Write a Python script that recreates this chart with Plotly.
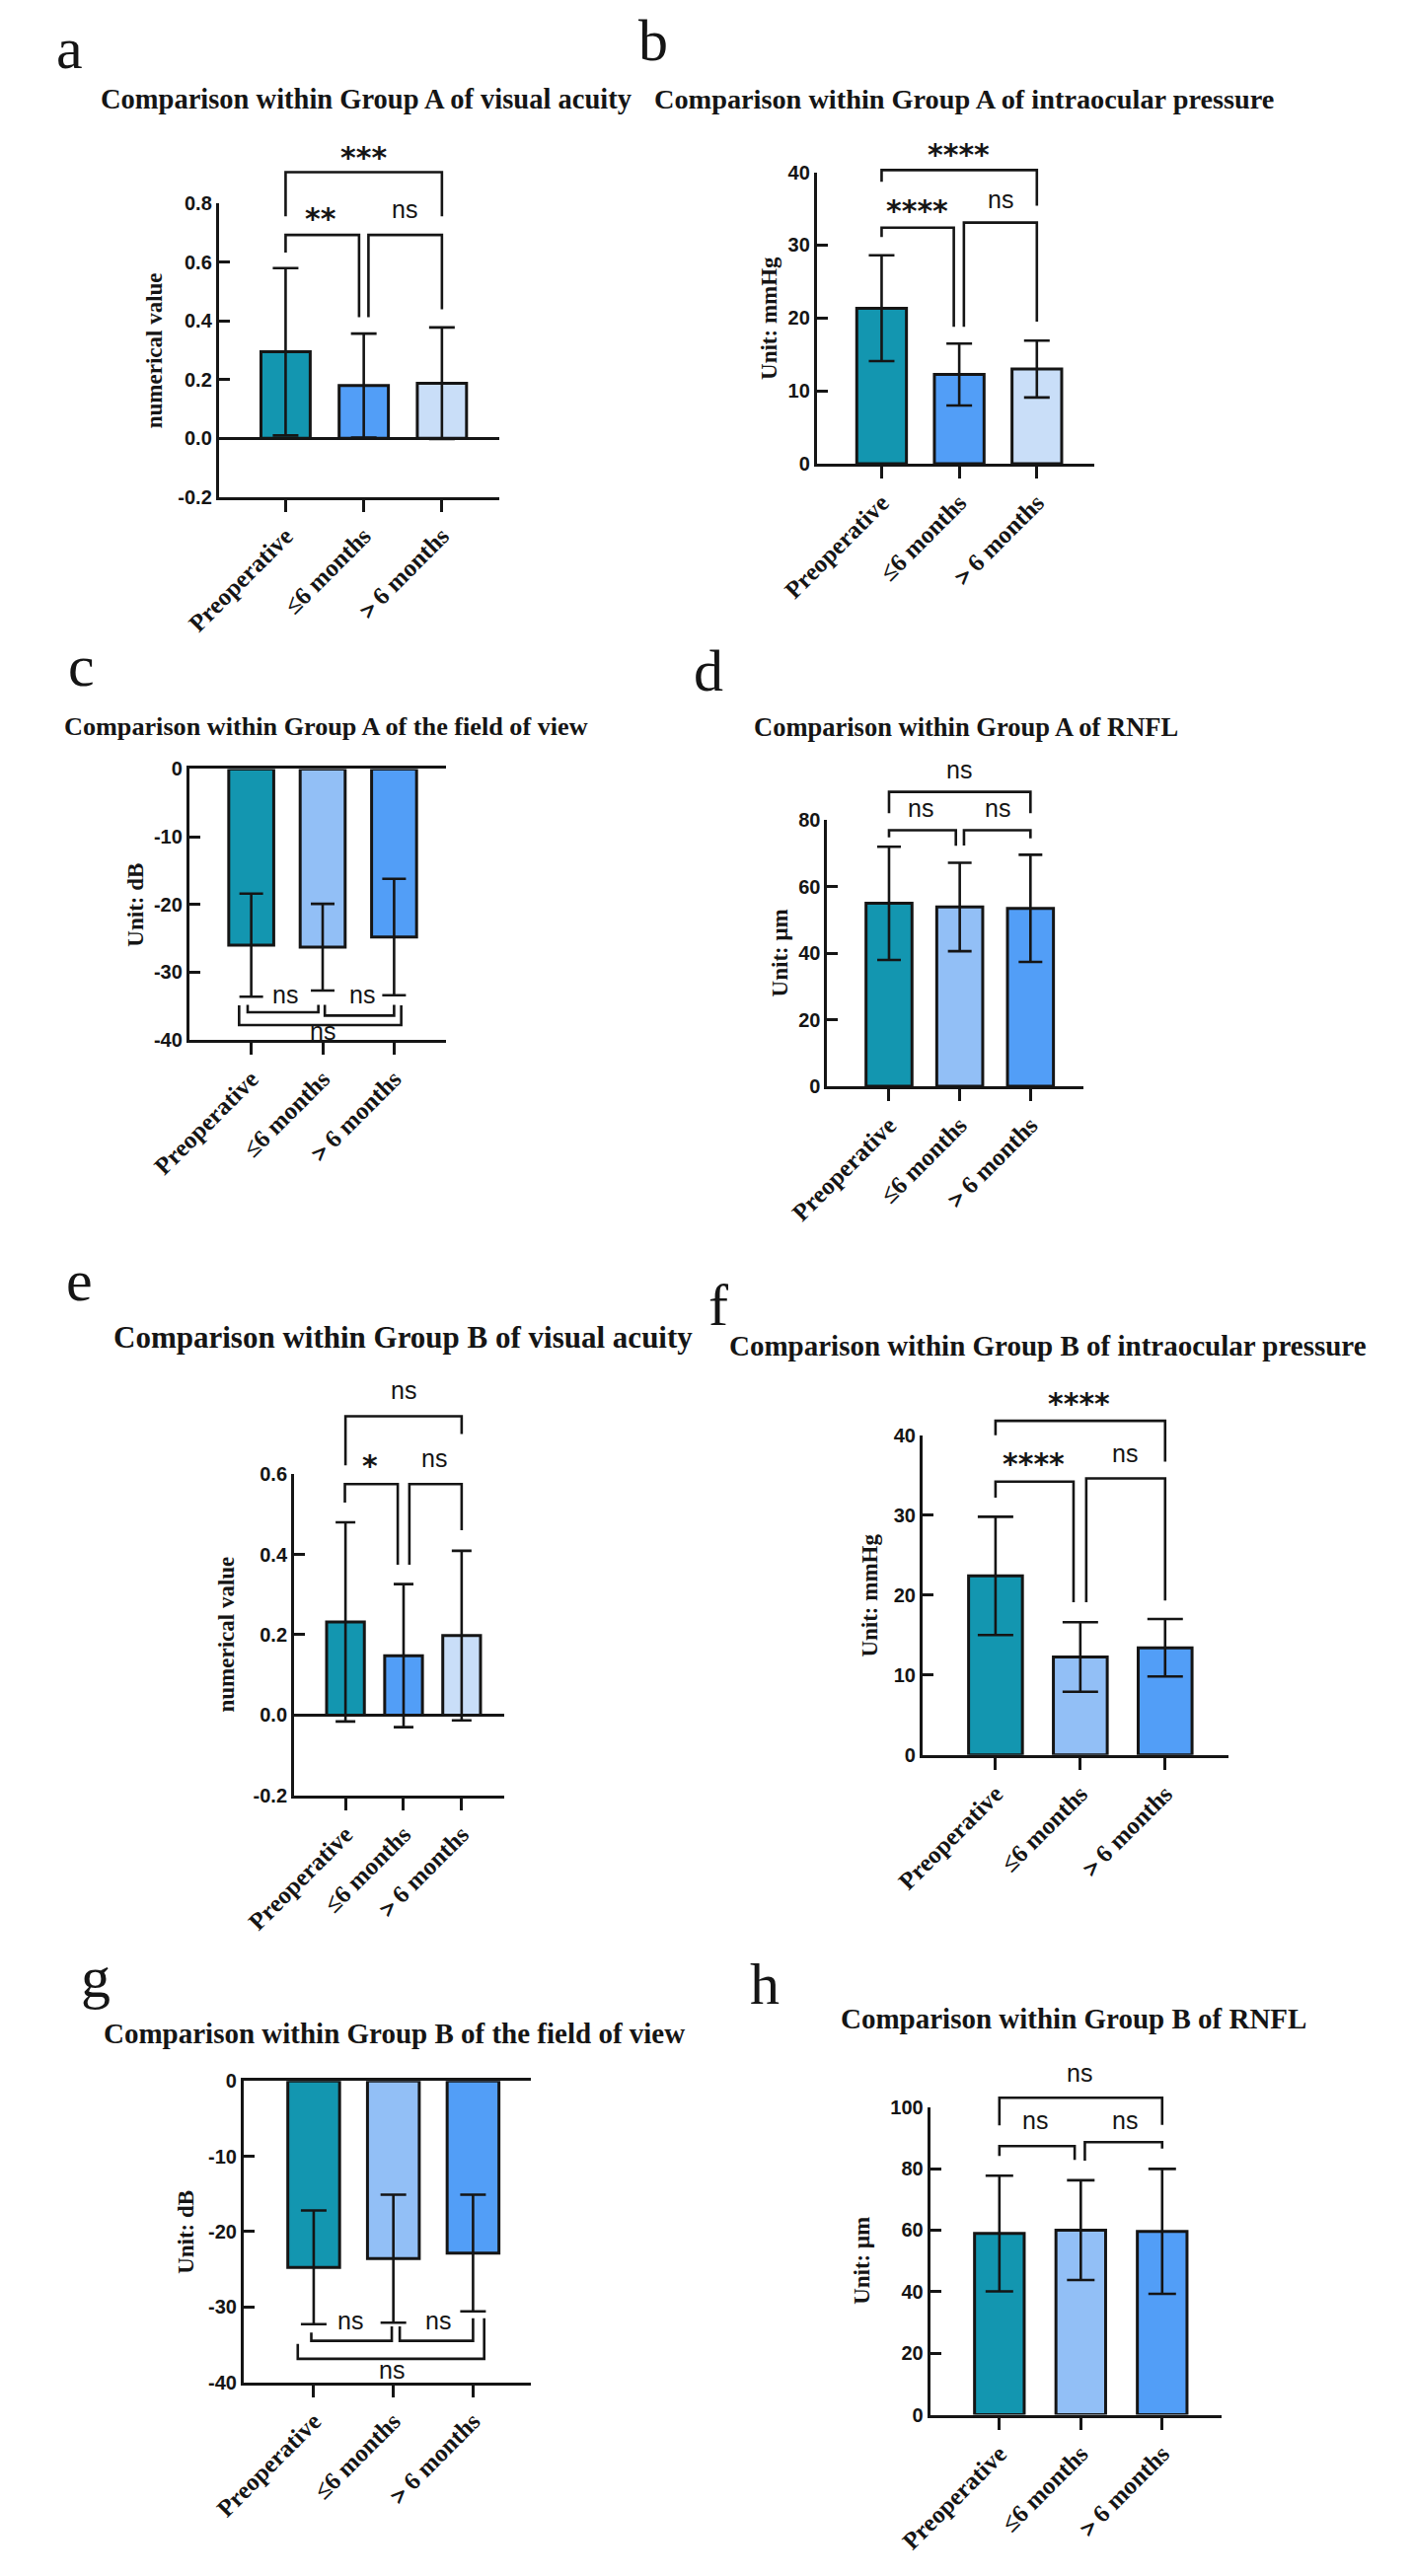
import plotly.graph_objects as go

W, H = 1432, 2611

categories = ["Preoperative", "≤6 months", "＞6 months"]

# Group A
va_a_mean = [0.295, 0.180, 0.188]
va_a_sd = [0.285, 0.177, 0.190]
iop_a_mean = [21.35, 12.25, 13.0]
iop_a_sd = [7.25, 4.25, 3.9]
vf_a_mean = [-26.0, -26.3, -24.8]
vf_a_sd = [7.6, 6.4, 8.6]
rnfl_a_mean = [55.0, 53.9, 53.5]
rnfl_a_sd = [17.0, 13.3, 16.1]

# Group B
va_b_mean = [0.232, 0.148, 0.198]
va_b_sd = [0.248, 0.178, 0.211]
iop_b_mean = [22.4, 12.25, 13.4]
iop_b_sd = [7.4, 4.35, 3.6]
vf_b_mean = [-24.75, -23.6, -22.85]
vf_b_sd = [7.55, 8.5, 7.75]
rnfl_b_mean = [58.9, 60.0, 59.6]
rnfl_b_sd = [18.8, 16.2, 20.3]

# axis ticks
va_a_ticks = [-0.2, 0.0, 0.2, 0.4, 0.6, 0.8]
va_b_ticks = [-0.2, 0.0, 0.2, 0.4, 0.6]
iop_ticks = [0, 10, 20, 30, 40]
vf_ticks = [-40, -30, -20, -10, 0]
rnfl_a_ticks = [0, 20, 40, 60, 80]
rnfl_b_ticks = [0, 20, 40, 60, 80, 100]

TEAL = "#1396B0"
BLUE = "#529EF7"
LIGHT = "#92BFF6"
PALE = "#C9DEF8"
INK = "#151515"

# brackets: (x_left, x_right, level, leg_end_left, leg_end_right, label, label_x, label_y)
panels = [
    dict(letter="a", lx=5, ly=38, title="Comparison within Group A of visual acuity", tx=52, ty=90, ts=28.5,
         mean=va_a_mean, sd=va_a_sd, colors=[TEAL, BLUE, PALE], ytitle="numerical value", ydx=68,
         ticks=va_a_ticks, xpx=(178, 473), ypx=(197, 497), xr=(-0.854, 2.74), bw=0.63, cap=13,
         brackets=[(0, 2, 0.907, 0.757, 0.757, "***", 1.0, 0.98),
                   (0, 0.94, 0.693, 0.633, 0.413, "**", 0.45, 0.773),
                   (1.06, 2, 0.693, 0.413, 0.44, "ns", 1.52, 0.773)]),
    dict(letter="b", lx=617, ly=30, title="Comparison within Group A of intraocular pressure", tx=633, ty=90, ts=28.3,
         mean=iop_a_mean, sd=iop_a_sd, colors=[TEAL, BLUE, PALE], ytitle="Unit: mmHg", ydx=50,
         ticks=iop_ticks, xpx=(806, 1097), ypx=(165, 463), xr=(-0.834, 2.736), bw=0.64, cap=13,
         brackets=[(0, 2, 40.3, 38.7, 35.4, "****", 0.99, 43.4),
                   (0, 0.93, 32.4, 31.1, 18.8, "****", 0.46, 35.7),
                   (1.06, 2, 33.1, 18.8, 19.5, "ns", 1.53, 36.0)]),
    dict(letter="c", lx=18, ly=670, title="Comparison within Group A of the field of view", tx=13, ty=732, ts=26.2,
         mean=vf_a_mean, sd=vf_a_sd, colors=[TEAL, LIGHT, BLUE], ytitle="Unit: dB", ydx=56,
         ticks=vf_ticks, xpx=(147, 417), ypx=(775, 1052), xr=(-0.867, 2.733), bw=0.63, cap=12,
         brackets=[(-0.05, 0.94, -35.9, -34.8, -34.8, "ns", 0.48, -33.5),
                   (1.03, 2.0, -36.4, -34.8, -34.8, "ns", 1.55, -33.5),
                   (-0.17, 2.1, -37.8, -34.9, -34.9, "ns", 1.0, -39.0)]),
    dict(letter="d", lx=675, ly=675, title="Comparison within Group A of RNFL", tx=738, ty=732, ts=26.5,
         mean=rnfl_a_mean, sd=rnfl_a_sd, colors=[TEAL, LIGHT, BLUE], ytitle="Unit: μm", ydx=50,
         ticks=rnfl_a_ticks, xpx=(817, 1086), ypx=(827.3, 1099.3), xr=(-0.872, 2.75), bw=0.65, cap=12,
         brackets=[(0, 2, 88.5, 82.1, 82.1, "ns", 0.99, 94.7),
                   (0, 0.945, 77.0, 74.8, 72.3, "ns", 0.45, 83.1),
                   (1.06, 2, 77.0, 72.4, 74.5, "ns", 1.53, 83.1)]),
    dict(letter="e", lx=16, ly=1298, title="Comparison within Group B of visual acuity", tx=65, ty=1356, ts=31,
         mean=va_b_mean, sd=va_b_sd, colors=[TEAL, BLUE, PALE], ytitle="numerical value", ydx=71,
         ticks=va_b_ticks, xpx=(257, 477.5), ypx=(1495.7, 1824.2), xr=(-0.885, 2.73), bw=0.65, cap=10,
         brackets=[(0, 2, 0.744, 0.622, 0.70, "ns", 1.0, 0.805),
                   (-0.01, 0.9, 0.575, 0.529, 0.374, "*", 0.43, 0.638),
                   (1.1, 2.0, 0.575, 0.374, 0.46, "ns", 1.52, 0.634)]),
    dict(letter="f", lx=690, ly=1323, title="Comparison within Group B of intraocular pressure", tx=712, ty=1364, ts=29,
         mean=iop_b_mean, sd=iop_b_sd, colors=[TEAL, LIGHT, BLUE], ytitle="Unit: mmHg", ydx=55,
         ticks=iop_ticks, xpx=(917, 1238.5), ypx=(1456, 1782.7), xr=(-0.86, 2.75), bw=0.635, cap=18,
         brackets=[(0, 2, 41.8, 40.0, 36.7, "****", 0.99, 44.9),
                   (0, 0.92, 34.2, 32.2, 19.1, "****", 0.45, 37.3),
                   (1.07, 2, 34.6, 19.1, 19.3, "ns", 1.53, 37.5)]),
    dict(letter="g", lx=31, ly=2010, title="Comparison within Group B of the field of view", tx=55, ty=2067, ts=29,
         mean=vf_b_mean, sd=vf_b_sd, colors=[TEAL, LIGHT, BLUE], ytitle="Unit: dB", ydx=60,
         ticks=vf_ticks, xpx=(204, 506), ypx=(2116, 2424), xr=(-0.88, 2.73), bw=0.65, cap=13,
         brackets=[(-0.03, 0.98, -34.5, -33.4, -32.6, "ns", 0.46, -32.1),
                   (1.08, 2.0, -34.5, -32.6, -31.5, "ns", 1.56, -32.1),
                   (-0.2, 2.14, -36.9, -34.9, -31.5, "ns", 0.98, -38.6)]),
    dict(letter="h", lx=734, ly=2017, title="Comparison within Group B of RNFL", tx=829, ty=2052, ts=29,
         mean=rnfl_b_mean, sd=rnfl_b_sd, colors=[TEAL, LIGHT, BLUE], ytitle="Unit: μm", ydx=72,
         ticks=rnfl_b_ticks, xpx=(925, 1231), ypx=(2142.7, 2457.3), xr=(-0.85, 2.73), bw=0.61, cap=14,
         brackets=[(0, 2, 103, 94, 94.2, "ns", 0.99, 110.4),
                   (0, 0.925, 87.3, 84.1, 82.8, "ns", 0.44, 95.0),
                   (1.05, 2, 88.6, 82.6, 86.5, "ns", 1.54, 95.0)]),
]


def tick_text(v):
    return f"{v:.1f}" if isinstance(v, float) else str(v)


def to_paper(p, xv, yv):
    x0, x1 = p["xpx"]
    r0, r1 = p["xr"]
    px = x0 + (xv - r0) / (r1 - r0) * (x1 - x0)
    top, bot = p["ypx"]
    y0, y1 = p["ticks"][0], p["ticks"][-1]
    py = bot - (yv - y0) / (y1 - y0) * (bot - top)
    return px / W, 1 - py / H


fig = go.Figure()
shapes = []
annotations = []

for k, p in enumerate(panels, start=1):
    xa = "x" if k == 1 else f"x{k}"
    ya = "y" if k == 1 else f"y{k}"
    yr = [p["ticks"][0], p["ticks"][-1]]
    negative = yr[1] <= 0

    fig.add_trace(go.Bar(
        x=categories, y=p["mean"], width=p["bw"],
        marker=dict(color=p["colors"], line=dict(color=INK, width=3)),
        error_y=dict(type="data", array=p["sd"], visible=True, color=INK, thickness=2.6, width=p["cap"]),
        xaxis=xa, yaxis=ya, showlegend=False, hoverinfo="skip"
    ))

    fig.layout[xa.replace("x", "xaxis", 1)] = dict(
        domain=[p["xpx"][0] / W, p["xpx"][1] / W], range=list(p["xr"]), anchor=ya,
        type="category", showline=True, linewidth=3, linecolor=INK, mirror=negative,
        ticks="outside", ticklen=12, tickwidth=3, tickcolor=INK, tickangle=-45,
        tickfont=dict(family="Liberation Serif", size=25, color=INK, weight="bold"),
        showgrid=False, zeroline=False, fixedrange=True
    )
    fig.layout[ya.replace("y", "yaxis", 1)] = dict(
        domain=[1 - p["ypx"][1] / H, 1 - p["ypx"][0] / H], range=yr, anchor=xa,
        showline=True, linewidth=3, linecolor=INK,
        ticks="inside", ticklen=11, tickwidth=3, tickcolor=INK,
        tickvals=p["ticks"], ticktext=[tick_text(v) for v in p["ticks"]],
        tickfont=dict(family="Liberation Sans", size=20, color=INK, weight="bold"),
        showgrid=False, zeroline=(yr[0] < 0 < yr[1]), zerolinewidth=3, zerolinecolor=INK,
        fixedrange=True
    )

    # panel letter and title
    annotations.append(dict(text=p["letter"], xref="paper", yref="paper", x=p["lx"] / W, y=1 - p["ly"] / H,
                            xanchor="left", yanchor="middle", showarrow=False,
                            font=dict(family="Liberation Serif", size=60, color=INK)))
    annotations.append(dict(text=p["title"], xref="paper", yref="paper", x=p["tx"] / W, y=1 - p["ty"] / H,
                            xanchor="left", yanchor="middle", showarrow=False,
                            font=dict(family="Liberation Serif", size=p["ts"], color=INK, weight="bold")))
    # y axis title
    mid = (p["ypx"][0] + p["ypx"][1]) / 2
    annotations.append(dict(text=p["ytitle"], xref="paper", yref="paper", x=(p["xpx"][0] - p["ydx"]) / W,
                            y=1 - mid / H, xanchor="center", yanchor="middle", textangle=-90, showarrow=False,
                            font=dict(family="Liberation Serif", size=23, color=INK, weight="bold")))

    # significance brackets
    for xl, xr_, lev, el, er, label, lx, ly in p["brackets"]:
        pts = [to_paper(p, xl, el), to_paper(p, xl, lev), to_paper(p, xr_, lev), to_paper(p, xr_, er)]
        path = "M " + " L ".join(f"{a:.5f},{b:.5f}" for a, b in pts)
        shapes.append(dict(type="path", path=path, xref="paper", yref="paper",
                           line=dict(color=INK, width=2.6)))
        star = label.startswith("*")
        ax_, ay_ = to_paper(p, lx, ly)
        annotations.append(dict(
            text=label, xref="paper", yref="paper", x=ax_, y=ay_, showarrow=False,
            xanchor="center", yanchor="middle", yshift=-7 if star else 2,
            font=dict(family="DejaVu Sans" if star else "Liberation Sans", size=30 if star else 25,
                      color=INK, weight="bold" if star else "normal")
        ))

fig.update_layout(
    width=W, height=H, autosize=False,
    margin=dict(l=0, r=0, t=0, b=0, pad=0),
    paper_bgcolor="white", plot_bgcolor="white",
    shapes=shapes, annotations=annotations,
    showlegend=False
)

fig.write_html("out.html", config={"displayModeBar": False},
               post_script="document.body.style.margin='0px';")
